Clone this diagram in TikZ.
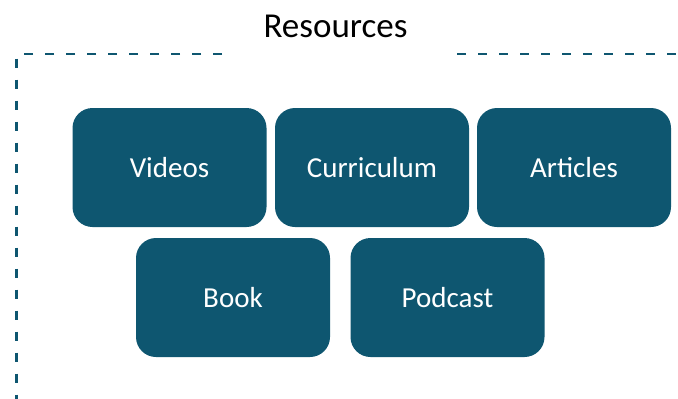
\documentclass[tikz,border=0pt]{standalone}
\usepackage{fontspec}
\setmainfont{Carlito}
\usepackage{tikz}
\definecolor{resblue}{HTML}{0E5670}

\begin{document}
\begin{tikzpicture}[x=1pt, y=-1pt,
		resbox/.style={fill=resblue, rounded corners=20pt, minimum width=194pt, minimum height=119pt, inner sep=0pt, text=white, font=\fontsize{29}{34}\selectfont},
		frame/.style={resblue, line width=2.3pt, dash pattern=on 9pt off 12pt}]
			\useasboundingbox (0, 0) rectangle (678, 399);
			\node[font=\fontsize{35}{40}\selectfont] (title) at (335.5, 26) {Resources};
			\coordinate (frameL) at (222, 54);
			\coordinate (frameC) at (16.5, 54);
			\coordinate (frameB) at (16.5, 399);
			\coordinate (frameR) at (457, 54);
			\coordinate (frameE) at (678, 54);
			\draw[frame] (frameL) -- (frameC) -- (frameB);
			\draw[frame] (frameR) -- (frameE);
			\node[resbox] (videos) at (169.5, 167.5) {Videos};
			\node[resbox] (curriculum) at (372, 167.5) {Curriculum};
			\node[resbox] (articles) at (574, 167.5) {Articles};
			\node[resbox] (book) at (233, 297.5) {Book};
			\node[resbox] (podcast) at (447.5, 297.5) {Podcast};
		\end{tikzpicture}
\end{document}
